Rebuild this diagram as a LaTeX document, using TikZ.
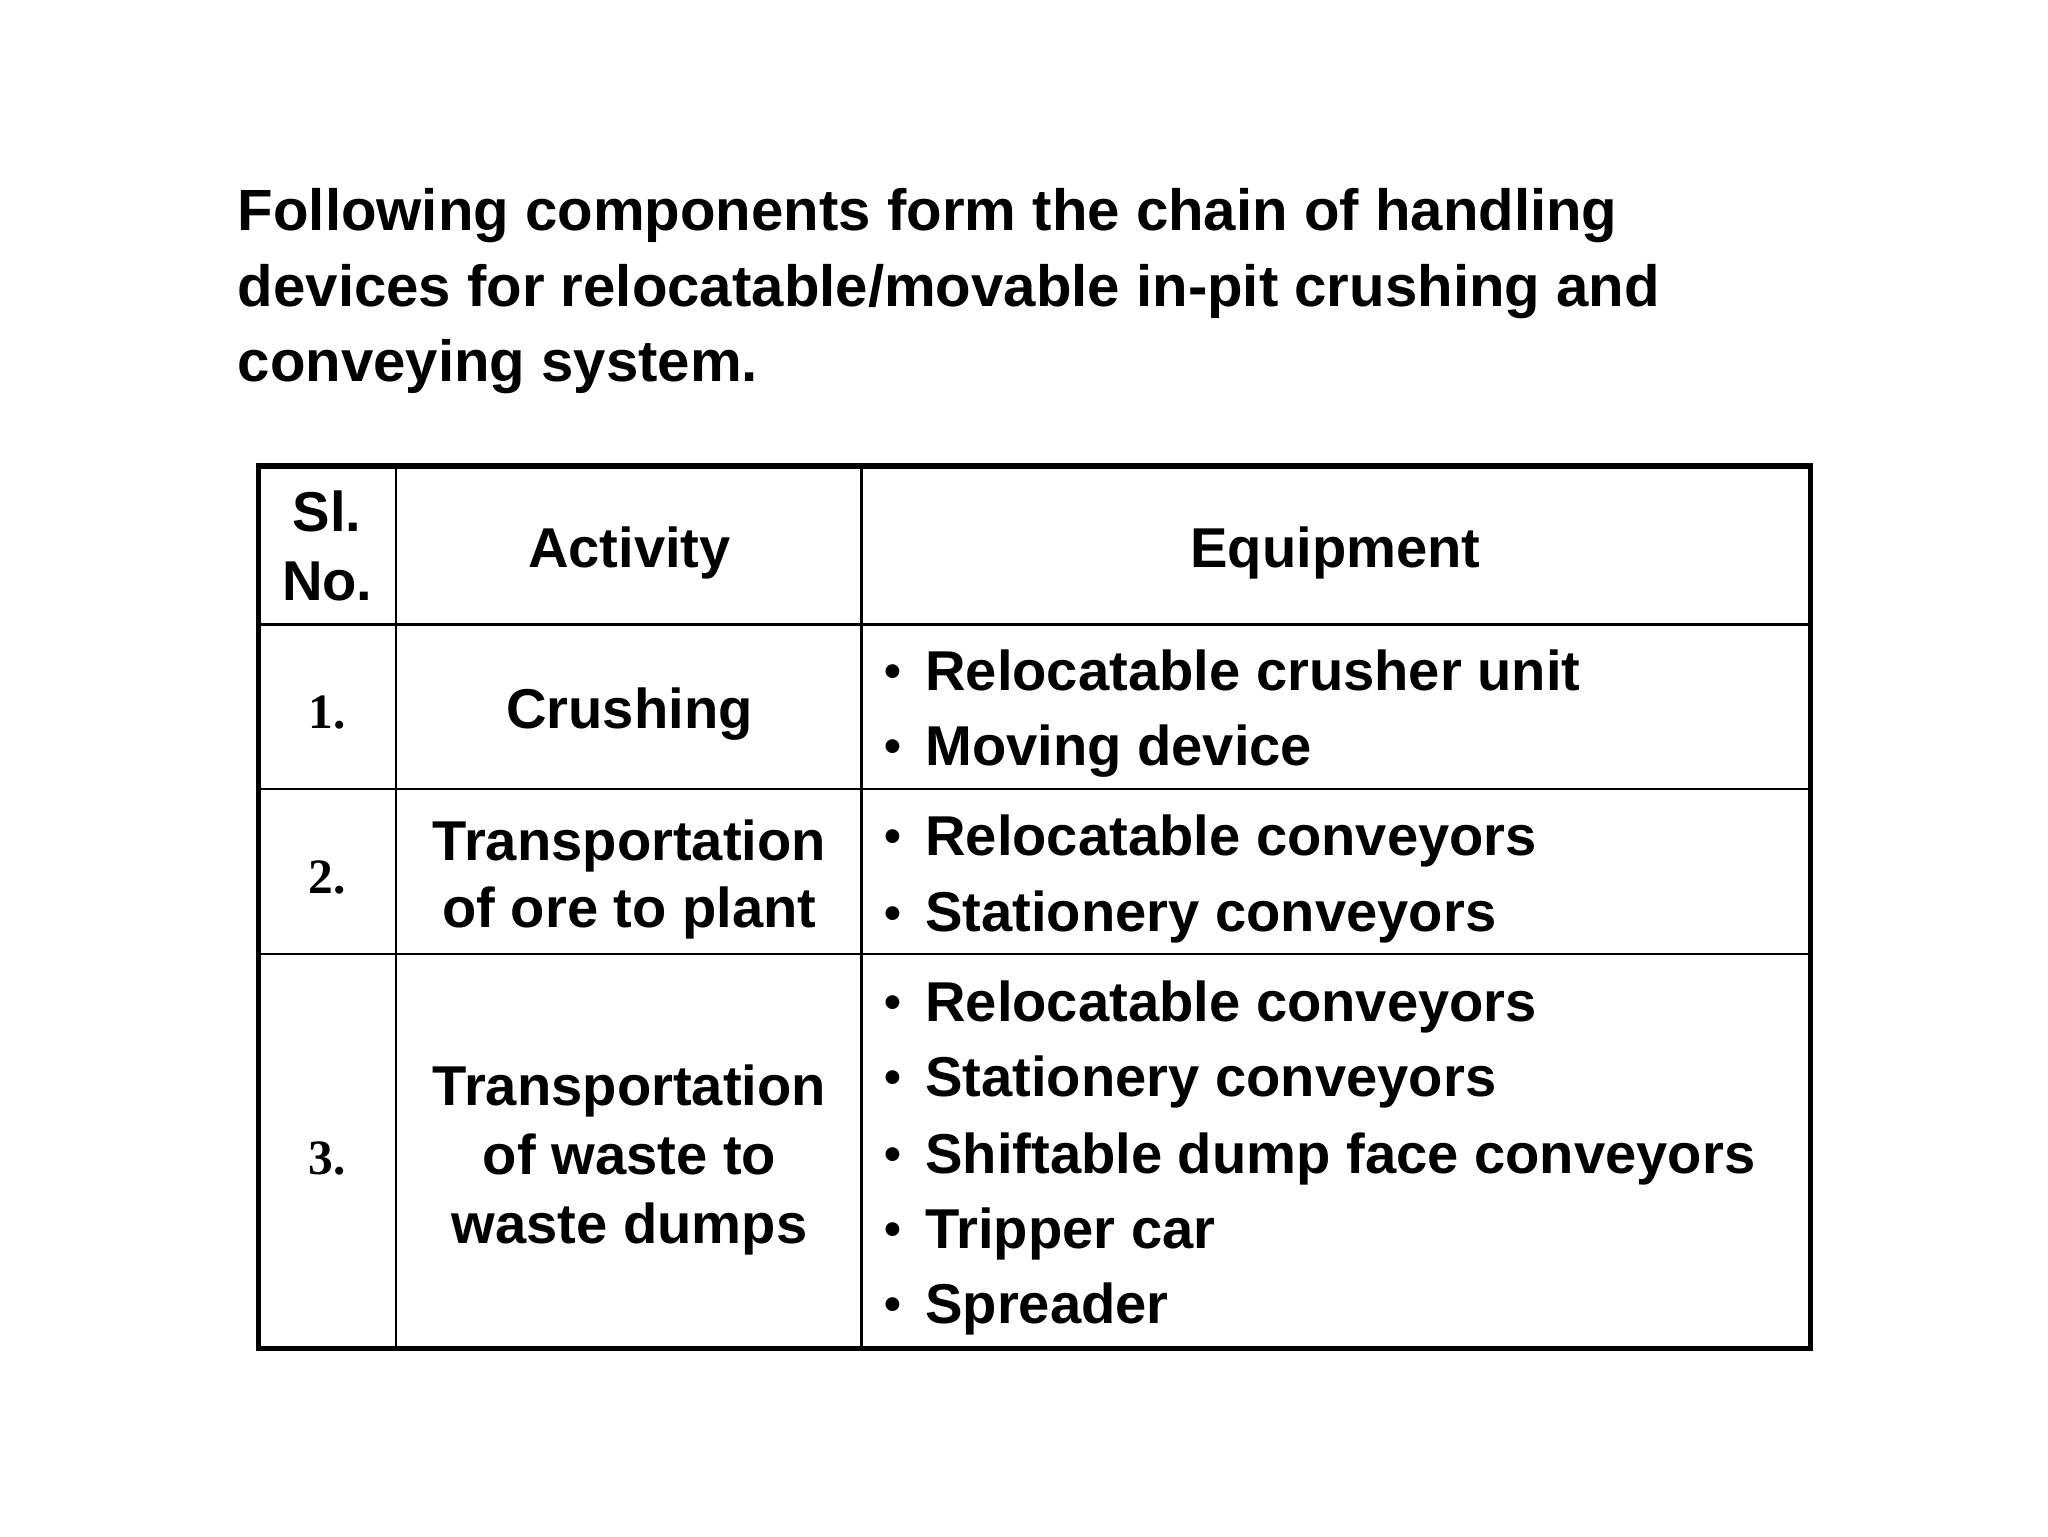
\documentclass[tikz,border=0pt]{standalone}
\usepackage{fontspec}
\setmainfont{Liberation Sans}
\newfontfamily\serifb{Liberation Serif}
\begin{document}
\begin{tikzpicture}[x=0.987pt,y=-0.987pt,
  tx/.style={font=\fontsize{42}{50}\selectfont\bfseries,inner sep=0pt},
  nm/.style={font=\fontsize{37}{46}\selectfont\serifb\bfseries,inner sep=0pt},
  tl/.style={anchor=base west,inner sep=0pt,text width=1174pt,align=justify,
    font=\fontsize{43.5}{57}\selectfont\bfseries}]
\useasboundingbox (0,0) rectangle (1552,1164);
\node[tl] (t1) at (180,175) {\parfillskip=0pt Following components form the chain of handling};
\node[tl] (t2) at (180,232) {\parfillskip=0pt devices for relocatable/movable in-pit crushing and};
\node[tl] (t3) at (180,289) {conveying system.};
% table
\draw[line width=4pt] (196,353) rectangle (1372,1022);
\draw[line width=2pt] (300,353) -- (300,1022) (653,353) -- (653,1022)
  (196,473) -- (1372,473) (196,598) -- (1372,598) (196,723) -- (1372,723);
% header
\node[tx,anchor=base] (h1) at (248,403) {Sl.};
\node[tx,anchor=base] (h1b) at (248,455) {No.};
\node[tx,anchor=base] (h2) at (477,430) {Activity};
\node[tx,anchor=base] (h3) at (1012,430) {Equipment};
% numbers
\node[nm,anchor=base] (n1) at (248,552) {1.};
\node[nm,anchor=base] (n2) at (248,677) {2.};
\node[nm,anchor=base] (n3) at (248,890) {3.};
% activities
\node[tx,anchor=base] (a1) at (477,552) {Crushing};
\node[tx,anchor=base] (a2) at (477,652) {Transportation};
\node[tx,anchor=base] (a2b) at (477,703) {of ore to plant};
\node[tx,anchor=base] (a3) at (477,838) {Transportation};
\node[tx,anchor=base] (a3b) at (477,890) {of waste to};
\node[tx,anchor=base] (a3c) at (477,942) {waste dumps};
% equipment
\foreach \y/\t [count=\i] in {523/Relocatable crusher unit,580/Moving device,648/Relocatable conveyors,706/Stationery conveyors,774/Relocatable conveyors,831/Stationery conveyors,889/Shiftable dump face conveyors,946/Tripper car,1003/Spreader}{
  \node[tx,anchor=base] (b\i) at (677,\y-2) {\fontsize{36}{36}\selectfont•};
  \node[tx,anchor=base west] (e\i) at (701,\y) {\t};
}
\end{tikzpicture}
\end{document}
